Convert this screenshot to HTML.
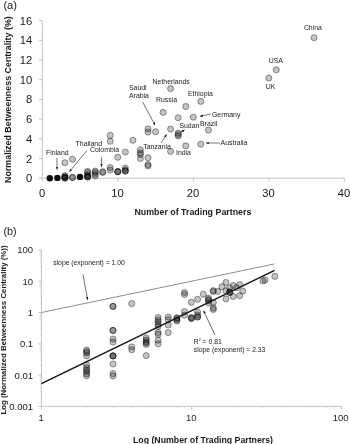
<!DOCTYPE html>
<html><head><meta charset="utf-8"><title>Figure</title>
<style>html,body{margin:0;padding:0;background:#fff}svg{display:block;will-change:transform}</style></head>
<body>
<svg width="350" height="444" viewBox="0 0 350 444" font-family="'Liberation Sans', sans-serif" fill="#1a1a1a">
<defs><marker id="ah" viewBox="0 0 10 10" refX="9" refY="5" markerWidth="3.1" markerHeight="3.1" markerUnits="userSpaceOnUse" orient="auto"><path d="M0,1.4 L10,5 L0,8.6 z" fill="#111"/></marker></defs>
<rect width="350" height="444" fill="#fff"/>
<text x="3.4" y="8.9" font-size="11.2">(a)</text>
<g stroke="#c4c4c4" stroke-width="1" fill="none">
<path d="M42.3,20.6 V178.2 H344.3"/>
<path d="M42.3,178.2 h-3.3"/>
<path d="M42.3,158.5 h-3.3"/>
<path d="M42.3,138.8 h-3.3"/>
<path d="M42.3,119.1 h-3.3"/>
<path d="M42.3,99.4 h-3.3"/>
<path d="M42.3,79.7 h-3.3"/>
<path d="M42.3,60.0 h-3.3"/>
<path d="M42.3,40.3 h-3.3"/>
<path d="M42.3,20.6 h-3.3"/>
<path d="M42.3,178.2 v3.5"/>
<path d="M117.8,178.2 v3.5"/>
<path d="M193.3,178.2 v3.5"/>
<path d="M268.8,178.2 v3.5"/>
<path d="M344.3,178.2 v3.5"/>
</g>
<text x="32.2" y="182.2" font-size="11.2" text-anchor="end">0</text>
<text x="32.2" y="162.5" font-size="11.2" text-anchor="end">2</text>
<text x="32.2" y="142.8" font-size="11.2" text-anchor="end">4</text>
<text x="32.2" y="123.1" font-size="11.2" text-anchor="end">6</text>
<text x="32.2" y="103.4" font-size="11.2" text-anchor="end">8</text>
<text x="32.2" y="83.7" font-size="11.2" text-anchor="end">10</text>
<text x="32.2" y="64.0" font-size="11.2" text-anchor="end">12</text>
<text x="32.2" y="44.3" font-size="11.2" text-anchor="end">14</text>
<text x="32.2" y="24.6" font-size="11.2" text-anchor="end">16</text>
<text x="42.1" y="196.7" font-size="11.2" text-anchor="middle">0</text>
<text x="117.6" y="196.7" font-size="11.2" text-anchor="middle">10</text>
<text x="193.1" y="196.7" font-size="11.2" text-anchor="middle">20</text>
<text x="268.6" y="196.7" font-size="11.2" text-anchor="middle">30</text>
<text x="344.1" y="196.7" font-size="11.2" text-anchor="middle">40</text>
<text x="192.9" y="215" font-size="8.86" font-weight="bold" text-anchor="middle">Number of Trading Partners</text>
<text transform="translate(11.2,99.6) rotate(-90)" font-size="8.9" font-weight="bold" text-anchor="middle">Normalized Betweenness Centrality (%)</text>
<g fill="#000" fill-opacity="0.23" stroke="#000" stroke-opacity="0.6" stroke-width="0.65">
<circle cx="64.9" cy="162.7" r="3.05"/>
<circle cx="64.9" cy="175.6" r="3.05"/>
<circle cx="64.9" cy="176.8" r="3.05"/>
<circle cx="64.9" cy="177.1" r="3.05"/>
<circle cx="64.9" cy="177.8" r="3.05"/>
<circle cx="64.9" cy="178.0" r="3.05"/>
<circle cx="64.9" cy="178.1" r="3.05"/>
<circle cx="72.5" cy="159.3" r="3.05"/>
<circle cx="72.5" cy="177.4" r="3.05"/>
<circle cx="72.5" cy="177.6" r="3.05"/>
<circle cx="87.6" cy="171.4" r="3.05"/>
<circle cx="87.6" cy="172.5" r="3.05"/>
<circle cx="87.6" cy="174.7" r="3.05"/>
<circle cx="87.6" cy="175.9" r="3.05"/>
<circle cx="87.6" cy="176.2" r="3.05"/>
<circle cx="87.6" cy="176.9" r="3.05"/>
<circle cx="87.6" cy="177.2" r="3.05"/>
<circle cx="95.2" cy="171.1" r="3.05"/>
<circle cx="95.2" cy="172.4" r="3.05"/>
<circle cx="95.2" cy="174.3" r="3.05"/>
<circle cx="95.2" cy="176.0" r="3.05"/>
<circle cx="102.7" cy="171.8" r="3.05"/>
<circle cx="102.7" cy="172.5" r="3.05"/>
<circle cx="110.2" cy="135.4" r="3.05"/>
<circle cx="110.2" cy="141.3" r="3.05"/>
<circle cx="110.2" cy="167.6" r="3.05"/>
<circle cx="110.2" cy="170.1" r="3.05"/>
<circle cx="117.8" cy="157.3" r="3.05"/>
<circle cx="117.8" cy="171.4" r="3.05"/>
<circle cx="117.8" cy="171.7" r="3.05"/>
<circle cx="117.8" cy="171.9" r="3.05"/>
<circle cx="125.3" cy="152.1" r="3.05"/>
<circle cx="125.3" cy="168.0" r="3.05"/>
<circle cx="125.3" cy="170.0" r="3.05"/>
<circle cx="125.3" cy="171.1" r="3.05"/>
<circle cx="125.3" cy="171.1" r="3.05"/>
<circle cx="132.9" cy="140.3" r="3.05"/>
<circle cx="140.4" cy="149.8" r="3.05"/>
<circle cx="140.4" cy="152.8" r="3.05"/>
<circle cx="140.4" cy="154.6" r="3.05"/>
<circle cx="140.4" cy="158.5" r="3.05"/>
<circle cx="148.0" cy="128.9" r="3.05"/>
<circle cx="148.0" cy="132.1" r="3.05"/>
<circle cx="148.0" cy="157.7" r="3.05"/>
<circle cx="148.0" cy="164.5" r="3.05"/>
<circle cx="148.0" cy="165.9" r="3.05"/>
<circle cx="155.6" cy="131.7" r="3.05"/>
<circle cx="163.1" cy="112.4" r="3.05"/>
<circle cx="170.6" cy="88.6" r="3.05"/>
<circle cx="170.6" cy="129.1" r="3.05"/>
<circle cx="170.6" cy="151.4" r="3.05"/>
<circle cx="178.2" cy="117.7" r="3.05"/>
<circle cx="178.2" cy="133.1" r="3.05"/>
<circle cx="178.2" cy="134.6" r="3.05"/>
<circle cx="178.2" cy="136.0" r="3.05"/>
<circle cx="185.8" cy="106.5" r="3.05"/>
<circle cx="185.8" cy="145.9" r="3.05"/>
<circle cx="193.3" cy="117.2" r="3.05"/>
<circle cx="200.8" cy="101.4" r="3.05"/>
<circle cx="200.8" cy="144.2" r="3.05"/>
<circle cx="208.4" cy="130.1" r="3.05"/>
<circle cx="268.8" cy="78.1" r="3.05"/>
<circle cx="276.3" cy="69.8" r="3.05"/>
<circle cx="314.1" cy="37.8" r="3.05"/>
</g>
<g fill="#0c0c0c">
<circle cx="49.8" cy="178.2" r="3.2"/>
<circle cx="57.4" cy="177.9" r="3.2"/>
<circle cx="80.0" cy="176.9" r="3.2"/>
</g>
<text x="46.0" y="154.8" font-size="6.9">Finland</text>
<text x="75.6" y="145.8" font-size="6.9">Thailand</text>
<text x="90.0" y="152.0" font-size="6.9">Colombia</text>
<text x="129.0" y="89.5" font-size="6.9">Saudi</text>
<text x="129.0" y="98.1" font-size="6.9">Arabia</text>
<text x="152.6" y="83.5" font-size="6.9">Netherlands</text>
<text x="156.0" y="101.5" font-size="6.9">Russia</text>
<text x="143.3" y="148.8" font-size="6.9">Tanzania</text>
<text x="188.0" y="95.9" font-size="6.9">Ethiopia</text>
<text x="212.0" y="116.5" font-size="6.9">Germany</text>
<text x="200.0" y="125.9" font-size="6.9">Brazil</text>
<text x="179.4" y="128.0" font-size="6.9">Sudan</text>
<text x="176.0" y="154.8" font-size="6.9">India</text>
<text x="220.6" y="145.3" font-size="6.9">Australia</text>
<text x="303.9" y="30.1" font-size="6.9">China</text>
<text x="268.7" y="63.1" font-size="6.9">USA</text>
<text x="265.7" y="89.1" font-size="6.9">UK</text>
<g stroke="#1a1a1a" stroke-width="0.6" fill="none">
<path d="M57.0,158.0 L57.0,169.5" marker-end="url(#ah)"/>
<path d="M87.0,150.5 L69.5,171.5" marker-end="url(#ah)"/>
<path d="M101.5,157.0 L101.5,166.8" marker-end="url(#ah)"/>
<path d="M142.6,102.0 L155.0,125.0" marker-end="url(#ah)"/>
<path d="M161.0,143.0 L166.6,134.6" marker-end="url(#ah)"/>
<path d="M210.8,114.0 L200.2,116.3" marker-end="url(#ah)"/>
<path d="M185.0,129.6 L181.2,131.8" marker-end="url(#ah)"/>
<path d="M220.0,143.0 L206.0,143.0" marker-end="url(#ah)"/>
</g>
<text x="3.5" y="235.4" font-size="10.8">(b)</text>
<g stroke="#c4c4c4" stroke-width="1" fill="none">
<path d="M41.4,249.9 V406.4 H341.4"/>
<path d="M41.4,406.4 h-3"/>
<path d="M41.4,375.1 h-3"/>
<path d="M41.4,343.8 h-3"/>
<path d="M41.4,312.5 h-3"/>
<path d="M41.4,281.2 h-3"/>
<path d="M41.4,249.9 h-3"/>
<path d="M41.4,406.4 v3.3"/>
<path d="M191.4,406.4 v3.3"/>
<path d="M341.4,406.4 v3.3"/>
</g>
<g stroke="#cfcfcf" stroke-width="0.7" fill="none">
<path d="M41.4,397.0 h-1.7"/>
<path d="M41.4,391.5 h-1.7"/>
<path d="M41.4,387.6 h-1.7"/>
<path d="M41.4,384.5 h-1.7"/>
<path d="M41.4,382.0 h-1.7"/>
<path d="M41.4,379.9 h-1.7"/>
<path d="M41.4,378.1 h-1.7"/>
<path d="M41.4,376.5 h-1.7"/>
<path d="M41.4,365.7 h-1.7"/>
<path d="M41.4,360.2 h-1.7"/>
<path d="M41.4,356.3 h-1.7"/>
<path d="M41.4,353.2 h-1.7"/>
<path d="M41.4,350.7 h-1.7"/>
<path d="M41.4,348.6 h-1.7"/>
<path d="M41.4,346.8 h-1.7"/>
<path d="M41.4,345.2 h-1.7"/>
<path d="M41.4,334.4 h-1.7"/>
<path d="M41.4,328.9 h-1.7"/>
<path d="M41.4,325.0 h-1.7"/>
<path d="M41.4,321.9 h-1.7"/>
<path d="M41.4,319.4 h-1.7"/>
<path d="M41.4,317.3 h-1.7"/>
<path d="M41.4,315.5 h-1.7"/>
<path d="M41.4,313.9 h-1.7"/>
<path d="M41.4,303.1 h-1.7"/>
<path d="M41.4,297.6 h-1.7"/>
<path d="M41.4,293.7 h-1.7"/>
<path d="M41.4,290.6 h-1.7"/>
<path d="M41.4,288.1 h-1.7"/>
<path d="M41.4,286.0 h-1.7"/>
<path d="M41.4,284.2 h-1.7"/>
<path d="M41.4,282.6 h-1.7"/>
<path d="M41.4,271.8 h-1.7"/>
<path d="M41.4,266.3 h-1.7"/>
<path d="M41.4,262.4 h-1.7"/>
<path d="M41.4,259.3 h-1.7"/>
<path d="M41.4,256.8 h-1.7"/>
<path d="M41.4,254.7 h-1.7"/>
<path d="M41.4,252.9 h-1.7"/>
<path d="M41.4,251.3 h-1.7"/>
<path d="M86.6,406.4 v1.9"/>
<path d="M113.0,406.4 v1.9"/>
<path d="M131.7,406.4 v1.9"/>
<path d="M146.2,406.4 v1.9"/>
<path d="M158.1,406.4 v1.9"/>
<path d="M168.2,406.4 v1.9"/>
<path d="M176.9,406.4 v1.9"/>
<path d="M184.5,406.4 v1.9"/>
<path d="M236.6,406.4 v1.9"/>
<path d="M263.0,406.4 v1.9"/>
<path d="M281.7,406.4 v1.9"/>
<path d="M296.2,406.4 v1.9"/>
<path d="M308.1,406.4 v1.9"/>
<path d="M318.2,406.4 v1.9"/>
<path d="M326.9,406.4 v1.9"/>
<path d="M334.5,406.4 v1.9"/>
</g>
<text x="33.1" y="409.9" font-size="9.5" text-anchor="end">0.001</text>
<text x="33.1" y="378.6" font-size="9.5" text-anchor="end">0.01</text>
<text x="33.1" y="347.3" font-size="9.5" text-anchor="end">0.1</text>
<text x="33.1" y="316.0" font-size="9.5" text-anchor="end">1</text>
<text x="33.1" y="284.7" font-size="9.5" text-anchor="end">10</text>
<text x="33.1" y="253.4" font-size="9.5" text-anchor="end">100</text>
<text x="41.2" y="420.9" font-size="9.5" text-anchor="middle">1</text>
<text x="191.2" y="420.9" font-size="9.5" text-anchor="middle">10</text>
<text x="340.6" y="420.9" font-size="9.5" text-anchor="middle">100</text>
<text x="203" y="442.7" font-size="8.75" font-weight="bold" text-anchor="middle">Log (Number of Trading Partners)</text>
<text transform="translate(5.9,330) rotate(-90)" font-size="7.85" font-weight="bold" text-anchor="middle">Log (Normalized Betweenness Centrality (%))</text>
<path d="M41.4,312.5 L274.6,263.9" stroke="#808080" stroke-width="0.9" fill="none"/>
<g fill="#000" fill-opacity="0.23" stroke="#000" stroke-opacity="0.6" stroke-width="0.65">
<circle cx="86.6" cy="350.1" r="3.05"/>
<circle cx="86.6" cy="351.7" r="3.05"/>
<circle cx="86.6" cy="353.0" r="3.05"/>
<circle cx="86.6" cy="355.9" r="3.05"/>
<circle cx="86.6" cy="365.0" r="3.05"/>
<circle cx="86.6" cy="367.9" r="3.05"/>
<circle cx="86.6" cy="370.0" r="3.05"/>
<circle cx="86.6" cy="371.5" r="3.05"/>
<circle cx="86.6" cy="373.8" r="3.05"/>
<circle cx="86.6" cy="375.7" r="3.05"/>
<circle cx="113.0" cy="306.4" r="3.05"/>
<circle cx="113.0" cy="330.4" r="3.05"/>
<circle cx="113.0" cy="330.4" r="3.05"/>
<circle cx="113.0" cy="339.0" r="3.05"/>
<circle cx="113.0" cy="342.0" r="3.05"/>
<circle cx="113.0" cy="355.9" r="3.05"/>
<circle cx="113.0" cy="355.9" r="3.05"/>
<circle cx="113.0" cy="355.9" r="3.05"/>
<circle cx="113.0" cy="364.0" r="3.05"/>
<circle cx="113.0" cy="373.6" r="3.05"/>
<circle cx="113.0" cy="375.9" r="3.05"/>
<circle cx="113.0" cy="306.4" r="3.05"/>
<circle cx="131.7" cy="303.6" r="3.05"/>
<circle cx="131.7" cy="347.0" r="3.05"/>
<circle cx="131.7" cy="349.7" r="3.05"/>
<circle cx="146.2" cy="338.0" r="3.05"/>
<circle cx="146.2" cy="340.0" r="3.05"/>
<circle cx="146.2" cy="341.7" r="3.05"/>
<circle cx="146.2" cy="343.0" r="3.05"/>
<circle cx="146.2" cy="344.4" r="3.05"/>
<circle cx="146.2" cy="355.6" r="3.05"/>
<circle cx="158.1" cy="317.5" r="3.05"/>
<circle cx="158.1" cy="320.0" r="3.05"/>
<circle cx="158.1" cy="321.9" r="3.05"/>
<circle cx="158.1" cy="324.4" r="3.05"/>
<circle cx="158.1" cy="326.4" r="3.05"/>
<circle cx="158.1" cy="332.5" r="3.05"/>
<circle cx="158.1" cy="334.4" r="3.05"/>
<circle cx="158.1" cy="340.2" r="3.05"/>
<circle cx="158.1" cy="343.8" r="3.05"/>
<circle cx="168.2" cy="317.0" r="3.05"/>
<circle cx="168.2" cy="319.7" r="3.05"/>
<circle cx="168.2" cy="325.0" r="3.05"/>
<circle cx="168.2" cy="332.6" r="3.05"/>
<circle cx="176.9" cy="318.4" r="3.05"/>
<circle cx="176.9" cy="319.9" r="3.05"/>
<circle cx="176.9" cy="317.7" r="3.05"/>
<circle cx="176.9" cy="320.9" r="3.05"/>
<circle cx="184.5" cy="292.5" r="3.05"/>
<circle cx="184.5" cy="294.5" r="3.05"/>
<circle cx="184.5" cy="311.5" r="3.05"/>
<circle cx="184.5" cy="315.2" r="3.05"/>
<circle cx="191.4" cy="302.3" r="3.05"/>
<circle cx="191.4" cy="317.5" r="3.05"/>
<circle cx="191.4" cy="318.1" r="3.05"/>
<circle cx="191.4" cy="318.6" r="3.05"/>
<circle cx="197.6" cy="299.3" r="3.05"/>
<circle cx="197.6" cy="312.0" r="3.05"/>
<circle cx="197.6" cy="315.0" r="3.05"/>
<circle cx="197.6" cy="317.0" r="3.05"/>
<circle cx="197.6" cy="317.0" r="3.05"/>
<circle cx="203.3" cy="294.2" r="3.05"/>
<circle cx="208.5" cy="298.1" r="3.05"/>
<circle cx="208.5" cy="299.6" r="3.05"/>
<circle cx="208.5" cy="300.6" r="3.05"/>
<circle cx="208.5" cy="303.1" r="3.05"/>
<circle cx="213.3" cy="290.6" r="3.05"/>
<circle cx="213.3" cy="291.5" r="3.05"/>
<circle cx="213.3" cy="302.5" r="3.05"/>
<circle cx="213.3" cy="308.0" r="3.05"/>
<circle cx="213.3" cy="309.5" r="3.05"/>
<circle cx="217.8" cy="291.4" r="3.05"/>
<circle cx="222.0" cy="286.7" r="3.05"/>
<circle cx="226.0" cy="282.5" r="3.05"/>
<circle cx="226.0" cy="290.7" r="3.05"/>
<circle cx="226.0" cy="298.9" r="3.05"/>
<circle cx="229.7" cy="287.8" r="3.05"/>
<circle cx="229.7" cy="291.8" r="3.05"/>
<circle cx="229.7" cy="292.3" r="3.05"/>
<circle cx="229.7" cy="292.7" r="3.05"/>
<circle cx="233.2" cy="285.5" r="3.05"/>
<circle cx="233.2" cy="296.4" r="3.05"/>
<circle cx="236.6" cy="287.7" r="3.05"/>
<circle cx="239.7" cy="284.6" r="3.05"/>
<circle cx="239.7" cy="295.7" r="3.05"/>
<circle cx="242.8" cy="291.0" r="3.05"/>
<circle cx="263.0" cy="281.0" r="3.05"/>
<circle cx="265.1" cy="279.9" r="3.05"/>
<circle cx="274.8" cy="276.4" r="3.05"/>
</g>
<path d="M41.4,383.6 L274.6,270.3" stroke="#141414" stroke-width="1.5" fill="none"/>
<text x="53.2" y="265.4" font-size="6.8">slope (exponent) = 1.00</text>
<text x="193.8" y="344.3" font-size="6.8">R<tspan font-size="3.6" dy="-2.9">2</tspan><tspan dy="2.9"> = 0.81</tspan></text>
<text x="193.8" y="352.3" font-size="6.8">slope (exponent) = 2.33</text>
<g stroke="#1a1a1a" stroke-width="0.65" fill="none">
<path d="M83.0,274.4 L87.6,299.8" marker-end="url(#ah)"/>
<path d="M215.0,335.0 L203.6,310.8" marker-end="url(#ah)"/>
</g>
</svg>
</body></html>
